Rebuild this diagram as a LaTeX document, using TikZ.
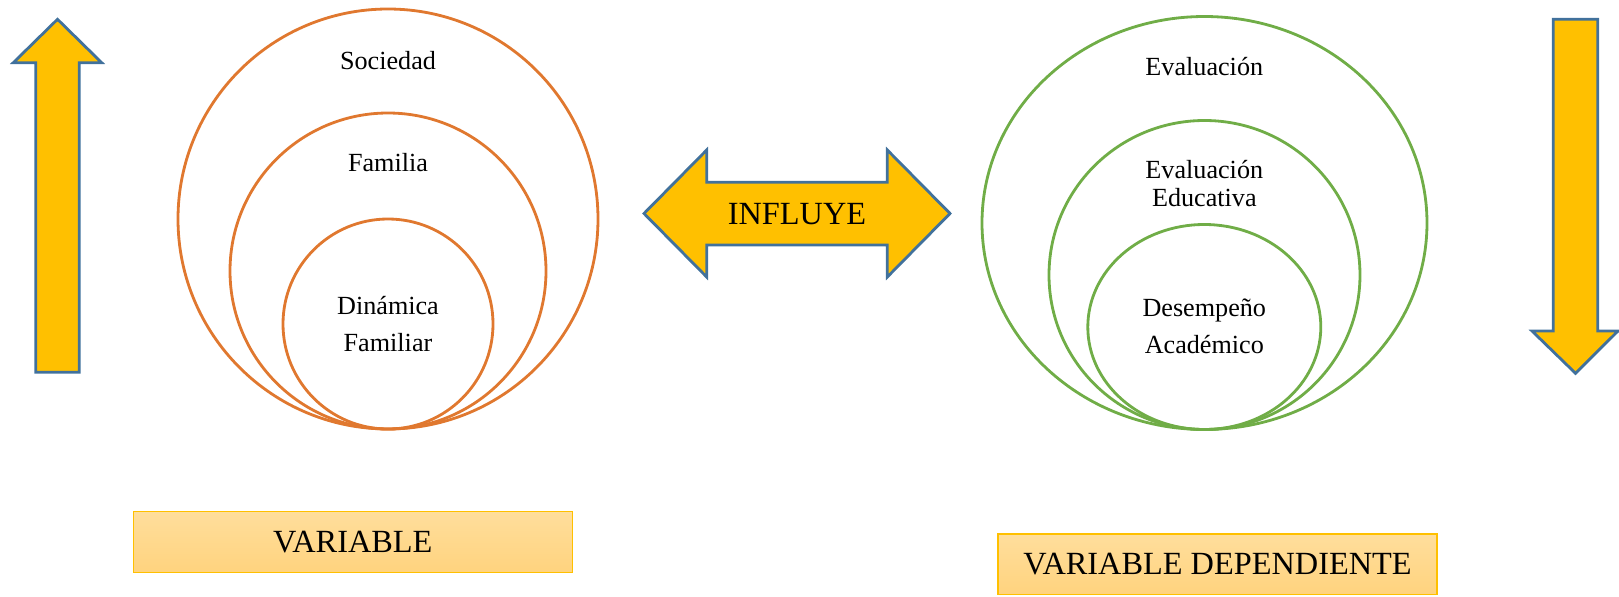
\documentclass[tikz,border=0pt]{standalone}
\usepackage{fontspec}
\setmainfont{Liberation Serif}
\usetikzlibrary{shapes.geometric}

\definecolor{ringorange}{HTML}{E0782F}
\definecolor{ringgreen}{HTML}{70AD47}
\definecolor{arrowfill}{HTML}{FFC000}
\definecolor{arrowline}{HTML}{41719C}
\definecolor{boxtop}{RGB}{255,222,156}
\definecolor{boxbottom}{RGB}{255,211,126}
\definecolor{boxline}{HTML}{FFC000}

\newcommand{\pxu}{0.025cm}

\begin{document}
\begin{tikzpicture}[x=0.025cm, y=-0.025cm]
    \tikzset{
        ring/.style={
            ellipse, draw=#1, line width=2pt, inner sep=0pt,
        },
        ringlabel/.style={
            anchor=base, inner sep=0pt, font=\fontsize{18.6}{22}\selectfont,
        },
        bigarrow/.style={
            fill=arrowfill, draw=arrowline, line width=2pt, line join=miter,
        },
        varbox/.style={
            draw=boxline, line width=1pt, top color=boxtop, bottom color=boxbottom,
            minimum width=439*\pxu, minimum height=60.6*\pxu,
            font=\fontsize{23}{27}\selectfont,
        },
    }
    \useasboundingbox (0,0) rectangle (1619,597);

    % Circles (left)
    \node[ring=ringorange, minimum width=420*\pxu, minimum height=420*\pxu] (sociedad) at (388,219) {};
    \node[ring=ringorange, minimum width=316*\pxu, minimum height=316*\pxu] (familia) at (388,271) {};
    \node[ring=ringorange, minimum width=210*\pxu, minimum height=210*\pxu] (dinamica) at (388,324) {};
    \node[ringlabel] (lsociedad) at (388,70) {Sociedad};
    \node[ringlabel] (lfamilia) at (388,171.7) {Familia};
    \node[ringlabel] (ldinamica) at (388,314) {Dinámica};
    \node[ringlabel] (lfamiliar) at (388,351.7) {Familiar};

    % Circles (right)
    \node[ring=ringgreen, minimum width=445*\pxu, minimum height=413*\pxu] (evaluacion) at (1204.5,223) {};
    \node[ring=ringgreen, minimum width=311*\pxu, minimum height=309*\pxu] (educativa) at (1204.5,275) {};
    \node[ring=ringgreen, minimum width=233*\pxu, minimum height=205*\pxu] (desempeno) at (1204.3,327) {};
    \node[ringlabel] (levaluacion) at (1204.3,76) {Evaluación};
    \node[ringlabel] (levaluacionb) at (1204.3,178.3) {Evaluación};
    \node[ringlabel] (leducativa) at (1204.3,206) {Educativa};
    \node[ringlabel] (ldesempeno) at (1204.3,316) {Desempeño};
    \node[ringlabel] (lacademico) at (1204.3,353.3) {Académico};

    % Arrows
    \draw[bigarrow] (35.7,372.3) -- (35.7,62.7) -- (13.3,62.7) -- (57.5,19.3)
        -- (101.7,62.7) -- (79.3,62.7) -- (79.3,372.3) -- cycle;
    \draw[bigarrow] (1553.3,19.3) -- (1597.7,19.3) -- (1597.7,331) -- (1618,331)
        -- (1575.5,373.3) -- (1532,331) -- (1553.3,331) -- cycle;
    \draw[bigarrow] (644,213.5) -- (706.7,150) -- (706.7,182.3) -- (887.3,182.3)
        -- (887.3,150) -- (950,213.5) -- (887.3,277) -- (887.3,245) -- (706.7,245)
        -- (706.7,277) -- cycle;
    \node[font=\fontsize{23}{27}\selectfont, inner sep=0pt] (influye) at (797,214.5) {INFLUYE};

    % Boxes
    \node[varbox] (variable) at (352.8,542) {VARIABLE};
    \node[varbox] (dependiente) at (1217.5,564.3) {VARIABLE DEPENDIENTE};

\end{tikzpicture}
\end{document}
